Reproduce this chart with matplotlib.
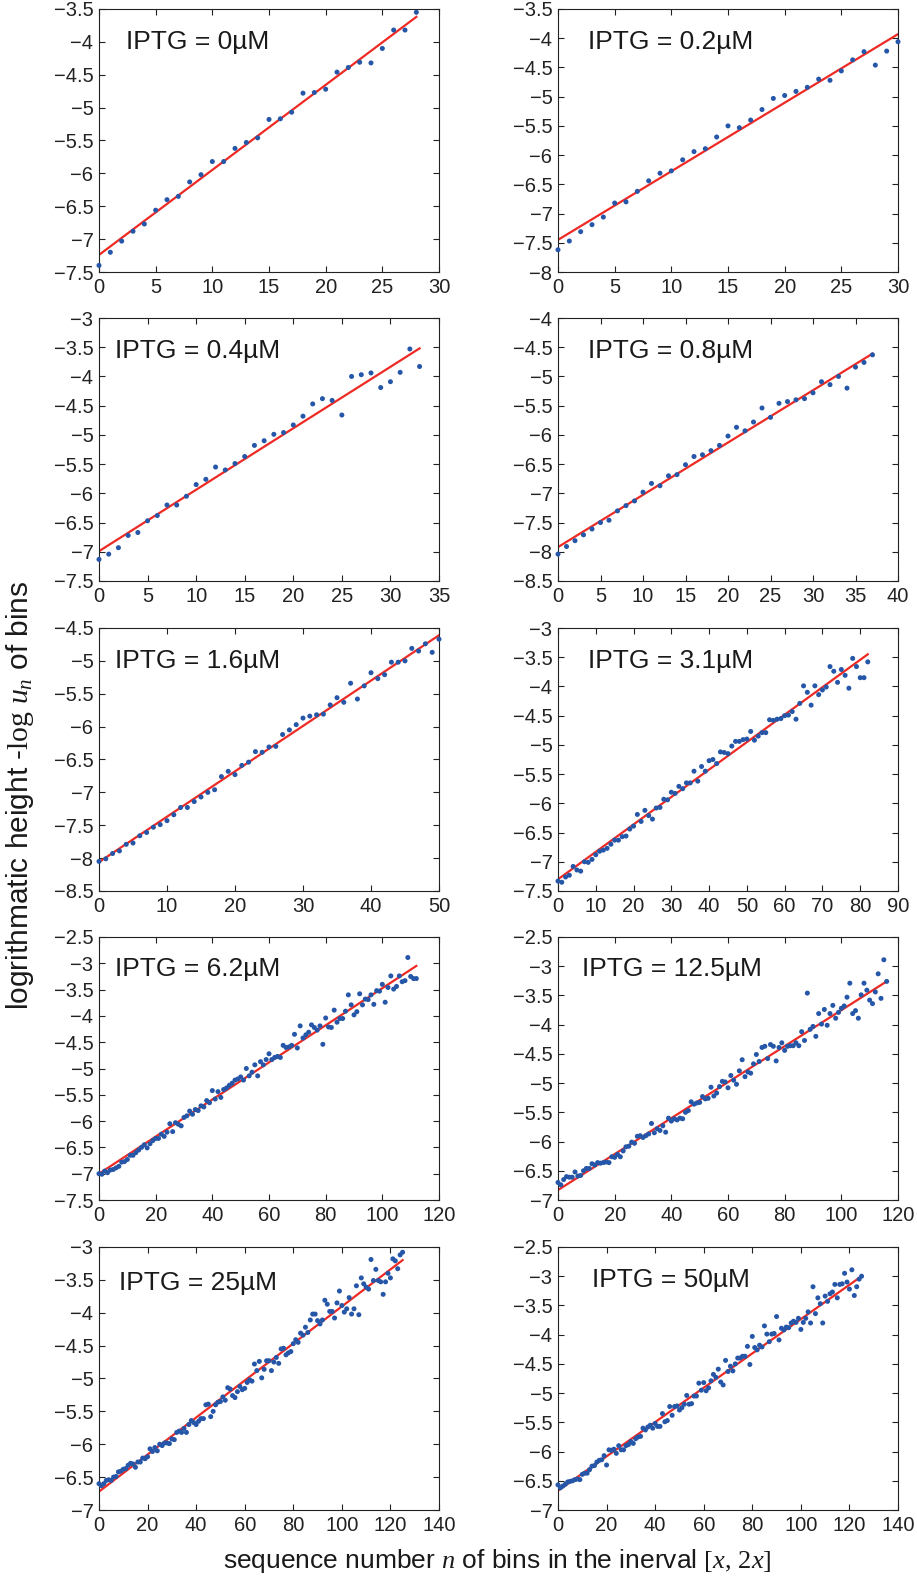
import numpy as np
import matplotlib
matplotlib.use("Agg")
import matplotlib.pyplot as plt
from matplotlib.ticker import MultipleLocator, FuncFormatter

plt.rcParams['font.family'] = ['Liberation Sans', 'DejaVu Sans']
plt.rcParams['mathtext.fontset'] = 'custom'
plt.rcParams['mathtext.rm'] = 'Liberation Serif'
plt.rcParams['mathtext.it'] = 'Liberation Serif:italic'

# IPTG concentrations (panel titles)
iptg = ['0', '0.2', '0.4', '0.8', '1.6', '3.1', '6.2', '12.5', '25', '50']

# -log u_n for n = 0, 1, 2, ...
y_0 = [-7.40, -7.20, -7.03, -6.88, -6.77, -6.56, -6.40, -6.35, -6.13, -6.02,
       -5.82, -5.82, -5.62, -5.53, -5.46, -5.18, -5.17, -5.07, -4.78, -4.77,
       -4.72, -4.46, -4.39, -4.31, -4.32, -4.10, -3.82, -3.82, -3.55]
y_02 = [-7.62, -7.47, -7.31, -7.19, -7.06, -6.82, -6.80, -6.62, -6.44, -6.31,
        -6.27, -6.08, -5.94, -5.89, -5.69, -5.50, -5.53, -5.40, -5.22, -5.03,
        -4.98, -4.91, -4.84, -4.70, -4.72, -4.56, -4.37, -4.23, -4.46, -4.22,
        -4.06]
y_04 = [-7.13, -7.04, -6.93, -6.72, -6.67, -6.47, -6.38, -6.20, -6.20, -6.05,
        -5.85, -5.76, -5.55, -5.60, -5.49, -5.37, -5.18, -5.10, -4.99, -4.96,
        -4.83, -4.68, -4.47, -4.38, -4.41, -4.66, -4.00, -3.97, -3.94, -4.19,
        -4.09, -3.93, -3.53, -3.83]
y_08 = [-8.04, -7.91, -7.81, -7.71, -7.61, -7.50, -7.46, -7.30, -7.21, -7.13,
        -6.98, -6.83, -6.87, -6.70, -6.68, -6.51, -6.37, -6.34, -6.27, -6.18,
        -6.02, -5.87, -5.93, -5.78, -5.54, -5.70, -5.46, -5.43, -5.40, -5.38,
        -5.28, -5.09, -5.14, -5.00, -5.20, -4.84, -4.76, -4.63]
y_16 = [-8.05, -8.01, -7.93, -7.89, -7.79, -7.77, -7.66, -7.61, -7.53, -7.49,
        -7.43, -7.34, -7.23, -7.23, -7.14, -7.07, -7.00, -6.96, -6.76, -6.68,
        -6.73, -6.59, -6.54, -6.38, -6.39, -6.31, -6.30, -6.12, -6.05, -5.97,
        -5.87, -5.84, -5.82, -5.81, -5.67, -5.56, -5.63, -5.34, -5.58, -5.38,
        -5.18, -5.27, -5.21, -5.02, -5.02, -5.00, -4.81, -4.85, -4.74, -4.87,
        -4.67]
y_31 = [-7.33, -7.35, -7.26, -7.23, -7.08, -7.14, -7.16, -7.00, -7.01, -6.96,
        -6.88, -6.82, -6.80, -6.77, -6.70, -6.63, -6.63, -6.57, -6.56, -6.44,
        -6.39, -6.19, -6.31, -6.12, -6.21, -6.27, -6.08, -6.07, -5.93, -5.94,
        -5.81, -5.83, -5.71, -5.75, -5.65, -5.65, -5.45, -5.62, -5.37, -5.45,
        -5.27, -5.25, -5.32, -5.12, -5.13, -5.15, -5.02, -4.94, -4.94, -4.91,
        -4.90, -4.77, -4.92, -4.85, -4.79, -4.79, -4.57, -4.58, -4.56, -4.55,
        -4.50, -4.49, -4.43, -4.56, -4.29, -3.99, -4.10, -4.32, -3.99, -4.14,
        -4.06, -4.01, -3.66, -3.74, -3.93, -3.71, -3.81, -4.03, -3.52, -3.66,
        -3.85, -3.85, -3.58]
y_62 = [-7.00, -7.01, -6.95, -6.98, -6.93, -6.92, -6.89, -6.86, -6.78, -6.77,
        -6.73, -6.65, -6.65, -6.60, -6.55, -6.50, -6.45, -6.51, -6.43, -6.37,
        -6.33, -6.33, -6.25, -6.29, -6.21, -6.05, -6.20, -6.03, -6.06, -6.09,
        -5.93, -5.90, -5.81, -5.87, -5.78, -5.80, -5.71, -5.73, -5.61, -5.65,
        -5.42, -5.58, -5.44, -5.55, -5.40, -5.37, -5.32, -5.28, -5.22, -5.20,
        -5.16, -5.22, -5.00, -5.14, -5.07, -4.93, -5.14, -4.87, -4.93, -4.83,
        -4.72, -4.83, -4.79, -4.77, -4.79, -4.56, -4.60, -4.59, -4.56, -4.35,
        -4.61, -4.19, -4.42, -4.36, -4.31, -4.17, -4.22, -4.27, -4.19, -4.54,
        -4.04, -4.21, -4.22, -3.89, -4.12, -4.05, -4.05, -3.91, -3.60, -3.79,
        -3.98, -3.92, -3.58, -3.79, -3.68, -3.69, -3.60, -3.78, -3.52, -3.53,
        -3.40, -3.74, -3.46, -3.24, -3.49, -3.44, -3.24, -3.35, -3.33, -2.89,
        -3.25, -3.29, -3.29]
y_125 = [-6.70, -6.74, -6.65, -6.60, -6.61, -6.61, -6.52, -6.59, -6.58, -6.50,
         -6.46, -6.46, -6.38, -6.40, -6.36, -6.37, -6.36, -6.35, -6.36, -6.26,
         -6.27, -6.22, -6.26, -6.16, -6.09, -6.08, -6.01, -6.03, -5.91, -5.90,
         -5.93, -5.90, -5.87, -5.69, -5.85, -5.78, -5.81, -5.73, -5.84, -5.60,
         -5.65, -5.61, -5.63, -5.60, -5.61, -5.50, -5.47, -5.32, -5.36, -5.34,
         -5.33, -5.23, -5.27, -5.26, -5.07, -5.22, -5.17, -5.06, -4.97, -4.98,
         -5.08, -4.87, -4.95, -5.02, -4.79, -4.60, -4.89, -4.81, -4.83, -4.67,
         -4.51, -4.63, -4.39, -4.37, -4.58, -4.34, -4.37, -4.62, -4.39, -4.31,
         -4.44, -4.37, -4.36, -4.36, -4.31, -4.36, -4.12, -4.27, -3.46, -4.08,
         -4.03, -4.20, -3.81, -3.99, -3.74, -4.01, -3.81, -3.67, -3.89, -3.79,
         -3.72, -3.68, -3.53, -3.29, -3.81, -3.76, -3.89, -3.49, -3.29, -3.41,
         -3.58, -3.64, -3.44, -3.13, -3.55, -2.89, -3.26]
y_25 = [-6.60, -6.63, -6.60, -6.55, -6.54, -6.55, -6.50, -6.49, -6.42, -6.41,
        -6.38, -6.37, -6.32, -6.29, -6.30, -6.35, -6.27, -6.27, -6.21, -6.22,
        -6.19, -6.07, -6.11, -6.05, -6.10, -6.00, -6.02, -5.98, -5.98, -5.99,
        -5.92, -5.93, -5.82, -5.80, -5.82, -5.76, -5.82, -5.70, -5.64, -5.67,
        -5.70, -5.65, -5.61, -5.61, -5.40, -5.39, -5.58, -5.50, -5.40, -5.36,
        -5.35, -5.28, -5.33, -5.14, -5.16, -5.26, -5.29, -5.20, -5.12, -5.17,
        -5.15, -5.06, -5.02, -5.04, -4.78, -4.88, -4.74, -4.99, -4.86, -4.73,
        -4.73, -4.88, -4.75, -4.68, -4.77, -4.55, -4.54, -4.64, -4.61, -4.59,
        -4.47, -4.41, -4.45, -4.31, -4.34, -4.22, -4.30, -4.11, -4.02, -4.02,
        -4.12, -4.17, -4.11, -3.81, -3.87, -3.98, -3.98, -4.08, -3.85, -3.67,
        -3.89, -3.99, -3.94, -3.77, -4.02, -3.94, -3.59, -4.03, -3.47, -3.56,
        -3.61, -3.64, -3.19, -3.51, -3.34, -3.51, -3.53, -3.72, -3.53, -3.40,
        -3.47, -3.18, -3.21, -3.33, -3.12, -3.08]
y_50 = [-6.57, -6.62, -6.59, -6.56, -6.52, -6.51, -6.50, -6.48, -6.47, -6.48,
        -6.39, -6.37, -6.37, -6.31, -6.25, -6.24, -6.18, -6.15, -6.14, -6.07,
        -6.23, -5.97, -5.98, -5.96, -6.03, -5.90, -5.97, -5.97, -5.90, -5.88,
        -5.83, -5.86, -5.78, -5.75, -5.74, -5.60, -5.63, -5.58, -5.55, -5.60,
        -5.52, -5.57, -5.57, -5.35, -5.49, -5.47, -5.23, -5.38, -5.23, -5.22,
        -5.29, -5.25, -5.19, -5.04, -5.19, -5.18, -5.05, -5.05, -4.83, -4.95,
        -4.82, -4.96, -4.91, -4.79, -4.68, -4.73, -4.59, -4.81, -4.86, -4.44,
        -4.63, -4.54, -4.62, -4.50, -4.40, -4.40, -4.37, -4.37, -4.20, -4.51,
        -4.03, -4.22, -4.26, -4.18, -4.21, -3.85, -3.99, -4.12, -3.99, -3.98,
        -3.69, -4.09, -3.89, -3.92, -3.87, -3.88, -3.80, -3.77, -3.79, -3.72,
        -3.91, -3.79, -3.72, -3.61, -3.80, -3.18, -3.64, -3.37, -3.47, -3.80,
        -3.34, -3.43, -3.30, -3.27, -3.14, -3.37, -3.14, -3.13, -2.95, -3.10,
        -3.22, -2.89, -3.33, -3.18, -3.05, -3.00]
series = [y_0, y_02, y_04, y_08, y_16, y_31, y_62, y_125, y_25, y_50]

# fitted line: value at n = 0 and at the last n
fit_start = [-7.24, -7.45, -6.99, -7.92, -8.06, -7.30, -7.00, -6.83, -6.72, -6.67]
fit_end = [-3.62, -3.93, -3.52, -4.61, -4.61, -3.45, -3.05, -3.26, -3.20, -3.00]

# axis ranges and x tick steps
xmax = [30, 30, 35, 40, 50, 90, 120, 120, 140, 140]
xstep = [5, 5, 5, 5, 10, 10, 20, 20, 20, 20]
ylims = [(-7.5, -3.5), (-8, -3.5), (-7.5, -3), (-8.5, -4), (-8.5, -4.5),
         (-7.5, -3), (-7.5, -2.5), (-7, -2.5), (-7, -3), (-7, -2.5)]

# label placement (axes fraction, left / vertical centre)
lab_pos = [(0.08, 0.875), (0.088, 0.875), (0.048, 0.875), (0.088, 0.875),
           (0.048, 0.875), (0.088, 0.875), (0.048, 0.88), (0.071, 0.88),
           (0.059, 0.865), (0.10, 0.875)]

W, H = 917, 1577
fig = plt.figure(figsize=(W / 100, H / 100), dpi=100)

lefts = [99, 558]
bottoms = [272, 581, 891, 1200, 1510]
aw, ah = 340, 263

dot_col = '#2556a8'
line_col = '#ee2a24'

def fmt(v, pos):
    s = '%g' % v
    return s.replace('-', '\u2212')

for i, y in enumerate(series):
    r, c = divmod(i, 2)
    ax = fig.add_axes([lefts[c] / W, 1 - bottoms[r] / H, aw / W, ah / H])
    x = np.arange(len(y))
    ax.plot([x[0], x[-1]], [fit_start[i], fit_end[i]], color=line_col, lw=1.6, zorder=2)
    ax.scatter(x, y, s=13, color=dot_col, edgecolors='none', zorder=3, clip_on=False)
    ax.set_xlim(0, xmax[i])
    ax.set_ylim(*ylims[i])
    ax.xaxis.set_major_locator(MultipleLocator(xstep[i]))
    ax.yaxis.set_major_locator(MultipleLocator(0.5))
    ax.yaxis.set_major_formatter(FuncFormatter(fmt))
    ax.tick_params(direction='in', top=True, right=True, length=4.5, width=0.8,
                   labelsize=14.5, colors='#222222')
    ax.tick_params(axis='x', pad=4)
    ax.tick_params(axis='y', pad=4)
    for sp in ax.spines.values():
        sp.set_linewidth(0.8)
        sp.set_color('#222222')
    ax.text(lab_pos[i][0], lab_pos[i][1], 'IPTG = %s\u00b5M' % iptg[i],
            transform=ax.transAxes, fontsize=19, va='center', ha='left',
            color='#1a1a1a')

fig.text(20 / W, 1 - 795 / H, r'logrithmatic height -$\mathrm{log}\ u_n$ of bins',
         rotation=90, ha='center', va='center', fontsize=21.5, color='#1a1a1a')
fig.text(497 / W, 1 - 1561 / H, r'sequence number $n$ of bins in the inerval $[x,\,2x]$',
         ha='center', va='center', fontsize=19, color='#1a1a1a')

plt.savefig('out.png', dpi=100)
